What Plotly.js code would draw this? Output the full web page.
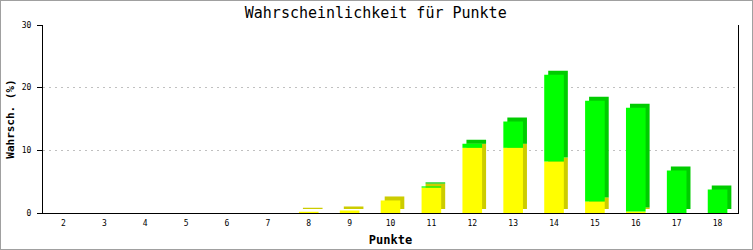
<!DOCTYPE html>
<html>
<head>
<meta charset="utf-8">
<script src="https://cdn.plot.ly/plotly-3.0.1.min.js"></script>
<style>
html,body{margin:0;padding:0;background:#fff;}
#frame{width:751px;height:248px;border:1px solid #a0a0a0;}
</style>
</head>
<body>
<div id="frame"><div id="chart"></div></div>
<script>
// Data
const punkte = ["2","3","4","5","6","7","8","9","10","11","12","13","14","15","16","17","18"];
const gelb   = [0,0,0,0,0,0,0.2,0.4,2.0,4.05,10.4,10.4,8.2,1.85,0.25,0,0];
const gruen  = [0,0,0,0,0,0,0,0,0,0.2,0.65,4.2,13.85,16.05,16.55,6.8,3.75];
const titel = "Wahrscheinlichkeit für Punkte";
const xTitel = "Punkte";
const yTitel = "Wahrsch. (%)";
const yTicks = [0,10,20,30];

const W = 751, H = 248;
const margin = {l:42, r:14, t:24, b:36};
const yMax = 30;
const plotH = H - margin.t - margin.b;
const depthPx = 4;
const dy = depthPx * yMax / plotH;          // 3D depth in data units
const barW = 0.48;
const dx = depthPx * punkte.length / (W - margin.l - margin.r);

const common = {type:'bar', x:punkte, width:barW, hoverinfo:'skip'};

const traces = [
  Object.assign({}, common, {y:gelb, base:gelb.map(()=>dy), offset:-barW/2+dx, marker:{color:'#cccc00', line:{width:0}}}),
  Object.assign({}, common, {y:gruen, base:gelb.map(v=>v+dy), offset:-barW/2+dx, marker:{color:'#00cc00', line:{width:0}}}),
  Object.assign({}, common, {y:gelb, base:gelb.map(()=>0), offset:-barW/2, marker:{color:'#ffff00', line:{width:0}}}),
  Object.assign({}, common, {y:gruen, base:gelb.slice(), offset:-barW/2, marker:{color:'#00ff00', line:{width:0}}})
];

const mono = "'DejaVu Sans Mono', 'Liberation Mono', monospace";

const layout = {
  width: W, height: H,
  margin: margin,
  paper_bgcolor:'#ffffff', plot_bgcolor:'#ffffff',
  barmode:'overlay',
  showlegend:false,
  title:{text:titel, font:{family:mono, size:15, color:'#000'}, x:0.499, xanchor:'center', y:1-12/H, yanchor:'middle', yref:'container'},
  xaxis:{
    type:'category', range:[-0.5, punkte.length-0.5],
    showline:true, linecolor:'#000', linewidth:1,
    ticks:'', showgrid:false, zeroline:false,
    tickfont:{family:mono, size:8, color:'#000'},
    ticklabelstandoff:2,
    title:{text:xTitel, font:{family:mono, size:12, color:'#000', weight:'bold'}, standoff:9}
  },
  yaxis:{
    range:[0,yMax], tickvals:yTicks, ticktext:yTicks.map(String),
    showline:true, mirror:true, linecolor:'#000', linewidth:1,
    ticks:'outside', ticklen:5, tickcolor:'#000', tickwidth:1,
    showgrid:true, gridcolor:'#c0c0c0', griddash:'2px,4px', gridwidth:1,
    zeroline:false,
    tickfont:{family:mono, size:8, color:'#000'},
    ticklabelstandoff:4,
    title:{text:yTitel, font:{family:mono, size:11, color:'#000', weight:'bold'}, standoff:4}
  }
};

Plotly.newPlot('chart', traces, layout, {staticPlot:true, displayModeBar:false});
</script>
</body>
</html>
